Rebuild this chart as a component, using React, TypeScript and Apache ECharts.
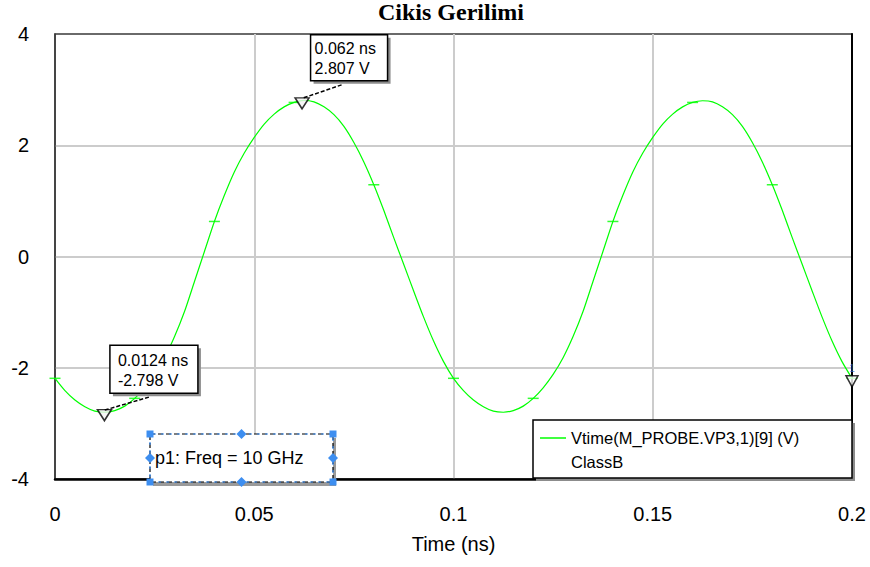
import React, { useEffect, useRef } from "react";
import * as echarts from "echarts";

// ---- data ----
const timeNs = [
  0, 0.0025, 0.005, 0.0075, 0.01, 0.0125, 0.015, 0.0175, 0.02, 0.0225, 0.025,
  0.0275, 0.03, 0.0325, 0.035, 0.0375, 0.04, 0.0425, 0.045, 0.0475, 0.05,
  0.0525, 0.055, 0.0575, 0.06, 0.0625, 0.065, 0.0675, 0.07, 0.0725, 0.075,
  0.0775, 0.08, 0.0825, 0.085, 0.0875, 0.09, 0.0925, 0.095, 0.0975, 0.1,
  0.1025, 0.105, 0.1075, 0.11, 0.1125, 0.115, 0.1175, 0.12, 0.1225, 0.125,
  0.1275, 0.13, 0.1325, 0.135, 0.1375, 0.14, 0.1425, 0.145, 0.1475, 0.15,
  0.1525, 0.155, 0.1575, 0.16, 0.1625, 0.165, 0.1675, 0.17, 0.1725, 0.175,
  0.1775, 0.18, 0.1825, 0.185, 0.1875, 0.19, 0.1925, 0.195, 0.1975, 0.2,
];
const voltage = [
  -2.19, -2.41, -2.58, -2.7, -2.78, -2.8, -2.77, -2.69, -2.55, -2.36, -2.12,
  -1.82, -1.44, -0.99, -0.45, 0.09, 0.63, 1.1, 1.52, 1.86, 2.14,
  2.38, 2.56, 2.69, 2.77, 2.807, 2.78, 2.69, 2.55, 2.34, 2.05,
  1.7, 1.29, 0.83, 0.34, -0.14, -0.62, -1.09, -1.52, -1.89, -2.19,
  -2.41, -2.58, -2.7, -2.78, -2.8, -2.77, -2.69, -2.55, -2.36, -2.12,
  -1.82, -1.44, -0.99, -0.45, 0.09, 0.63, 1.1, 1.52, 1.86, 2.14,
  2.38, 2.56, 2.69, 2.77, 2.8, 2.78, 2.69, 2.55, 2.34, 2.05,
  1.7, 1.29, 0.83, 0.34, -0.14, -0.62, -1.09, -1.52, -1.89, -2.19,
];
const sampleTimes = [0, 0.02, 0.04, 0.06, 0.08, 0.1, 0.12, 0.14, 0.16, 0.18, 0.2];
const cursorTimes = [0.0124, 0.062];
const cursorValues = [-2.798, 2.807];
const cursorLabels = [
  ["0.0124 ns", "-2.798 V"],
  ["0.062 ns", "2.807 V"],
];
const endMarkerTime = 0.2;
const endMarkerLabel = "1";
const titleText = "Cikis Gerilimi";
const xAxisName = "Time (ns)";
const seriesName = "Vtime(M_PROBE.VP3,1)[9] (V)";
const datasetName = "ClassB";
const freqLabel = "p1: Freq = 10 GHz";

const SANS = "Liberation Sans, Arial, sans-serif";
const SERIF = "Liberation Serif, Times New Roman, serif";
const GREEN = "#00ff00";
const BLUE = "#3d8ef0";

export default function App() {
  const ref = useRef<HTMLDivElement>(null);

  useEffect(() => {
    if (!ref.current) return;
    const chart = echarts.init(ref.current, null, { renderer: "svg" });
    const curve = timeNs.map((t, i) => [t, voltage[i]]);
    const samples = sampleTimes.map((t) => [t, voltage[timeNs.indexOf(t)]]);
    const cursors = cursorTimes.map((t, i) => [t, cursorValues[i]]);
    const endPoint = [endMarkerTime, voltage[timeNs.indexOf(endMarkerTime)]];

    chart.setOption({
      animation: false,
      backgroundColor: "#ffffff",
      grid: {
        left: 55,
        right: 18,
        top: 34,
        bottom: 88,
        show: true,
        borderColor: "#3a3a3a",
        borderWidth: 1.5,
        backgroundColor: "#ffffff",
      },
      xAxis: {
        type: "value",
        min: 0,
        max: 0.2,
        interval: 0.05,
        name: xAxisName,
        nameLocation: "middle",
        nameGap: 55,
        nameTextStyle: { fontFamily: SANS, fontSize: 20, color: "#000" },
        axisLine: { show: true, onZero: false, lineStyle: { color: "#000", width: 2.5 } },
        axisTick: { show: false },
        axisLabel: {
          fontFamily: SANS,
          fontSize: 20,
          color: "#000",
          margin: 25,
          formatter: (v: number) => String(+v.toFixed(2)),
        },
        splitLine: {
          show: true,
          showMinLine: false,
          showMaxLine: false,
          lineStyle: { color: "#cccccc", width: 2 },
        },
      },
      yAxis: [
        {
          type: "value",
          min: -4,
          max: 4,
          interval: 2,
          axisLine: { show: true, onZero: false, lineStyle: { color: "#3a3a3a", width: 1.5 } },
          axisTick: { show: false },
          axisLabel: {
            fontFamily: SANS,
            fontSize: 20,
            color: "#000",
            margin: 26,
            formatter: (v: number) => String(+v.toFixed(2)),
          },
          splitLine: {
            show: true,
            showMinLine: false,
            showMaxLine: false,
            lineStyle: { color: "#cccccc", width: 2 },
          },
        },
        {
          type: "value",
          min: -4,
          max: 4,
          interval: 2,
          position: "right",
          axisLine: { show: true, onZero: false, lineStyle: { color: "#000", width: 2 } },
          axisTick: { show: false },
          axisLabel: { show: false },
          splitLine: { show: false },
        },
      ],
      series: [
        {
          name: seriesName,
          type: "line",
          data: curve,
          showSymbol: false,
          smooth: 0.25,
          lineStyle: { color: GREEN, width: 1.2 },
          z: 3,
          silent: true,
        },
        {
          type: "scatter",
          data: samples,
          symbol: "rect",
          symbolSize: [11, 1.5],
          itemStyle: { color: GREEN },
          clip: false,
          z: 4,
          silent: true,
        },
        {
          type: "scatter",
          data: cursors,
          symbol: "triangle",
          symbolRotate: 180,
          symbolSize: [14, 11],
          symbolOffset: [0, 3],
          itemStyle: { color: "#f4f4f4", borderColor: "#000", borderWidth: 1.5 },
          clip: false,
          z: 5,
          silent: true,
        },
        {
          type: "scatter",
          data: [endPoint],
          symbol: "triangle",
          symbolRotate: 180,
          symbolSize: [12, 11],
          symbolOffset: [0, 3],
          itemStyle: { color: "#ffffff", borderColor: "#000", borderWidth: 1.5 },
          label: {
            show: true,
            formatter: endMarkerLabel,
            position: "top",
            distance: 2,
            fontSize: 10,
            color: "#3060c0",
            fontFamily: SANS,
          },
          clip: false,
          z: 5,
          silent: true,
        },
      ],
    });

    const px = (p: number[]) => chart.convertToPixel({ gridIndex: 0 }, p) as number[];
    const graphics: any[] = [];
    const Z = 100;

    // title
    graphics.push({
      type: "text",
      x: 451,
      y: 0,
      z: Z,
      style: {
        text: titleText,
        align: "center",
        verticalAlign: "top",
        fontFamily: SERIF,
        fontWeight: "bold",
        fontSize: 24,
        fill: "#000",
      },
    });

    // cursor callouts
    const boxSpecs = [
      { dx: 5.5, dy: -67, w: 88, h: 48, tx: 8, l1: 15, l2: 35, ax: 39, ay: 52 },
      { dx: 8.5, dy: -65.5, w: 77, h: 46, tx: 4, l1: 13.5, l2: 33.5, ax: 31, ay: 50 },
    ];
    cursors.forEach((c, i) => {
      const [mx, my] = px(c);
      const s = boxSpecs[i];
      const bx = mx + s.dx;
      const by = my + s.dy;
      graphics.push({
        type: "line",
        z: Z,
        shape: { x1: bx + s.ax, y1: by + s.ay, x2: mx, y2: my - 2 },
        style: { stroke: "#000", lineWidth: 1.5, lineDash: [4, 2] },
      });
      graphics.push({
        type: "rect",
        z: Z,
        shape: { x: bx + 3, y: by + 3, width: s.w, height: s.h },
        style: { fill: "#8c8c8c" },
      });
      graphics.push({
        type: "rect",
        z: Z + 1,
        shape: { x: bx, y: by, width: s.w, height: s.h },
        style: { fill: "#ffffff", stroke: "#000", lineWidth: 1.5 },
      });
      cursorLabels[i].forEach((txt, k) => {
        graphics.push({
          type: "text",
          z: Z + 2,
          x: bx + s.tx,
          y: by + (k === 0 ? s.l1 : s.l2),
          style: {
            text: txt,
            align: "left",
            verticalAlign: "middle",
            fontFamily: SANS,
            fontSize: 16,
            fill: "#000",
          },
        });
      });
    });

    // legend box
    const lx = 533, ly = 420, lw = 319, lh = 58;
    graphics.push({
      type: "rect",
      z: Z,
      shape: { x: lx + 3, y: ly + 3, width: lw, height: lh },
      style: { fill: "#8c8c8c" },
    });
    graphics.push({
      type: "rect",
      z: Z + 1,
      shape: { x: lx, y: ly, width: lw, height: lh },
      style: { fill: "#ffffff", stroke: "#000", lineWidth: 1.5 },
    });
    graphics.push({
      type: "line",
      z: Z + 2,
      shape: { x1: lx + 7, y1: ly + 18, x2: lx + 33, y2: ly + 18 },
      style: { stroke: GREEN, lineWidth: 1.5 },
    });
    graphics.push({
      type: "text",
      z: Z + 2,
      x: lx + 38,
      y: ly + 18,
      style: { text: seriesName, align: "left", verticalAlign: "middle", fontFamily: SANS, fontSize: 16.5, fill: "#000" },
    });
    graphics.push({
      type: "text",
      z: Z + 2,
      x: lx + 38,
      y: ly + 42,
      style: { text: datasetName, align: "left", verticalAlign: "middle", fontFamily: SANS, fontSize: 16.5, fill: "#000" },
    });

    // p1 frequency box (selected annotation)
    const fx = 150, fy = 434, fw = 183, fh = 48;
    graphics.push({
      type: "rect",
      z: Z,
      shape: { x: fx + 3, y: fy + 4, width: fw, height: fh },
      style: { fill: "#9a9a9a" },
    });
    graphics.push({
      type: "rect",
      z: Z + 1,
      shape: { x: fx, y: fy, width: fw, height: fh },
      style: { fill: "#ffffff", stroke: "#000", lineWidth: 1.2, lineDash: [5, 3] },
    });
    graphics.push({
      type: "rect",
      z: Z + 2,
      shape: { x: fx, y: fy, width: fw, height: fh },
      style: { fill: "none", stroke: BLUE, lineWidth: 1.2, lineDash: [3, 5], lineDashOffset: 5 },
    });
    graphics.push({
      type: "text",
      z: Z + 3,
      x: fx + 5,
      y: fy + 24,
      style: { text: freqLabel, align: "left", verticalAlign: "middle", fontFamily: SANS, fontSize: 18, fill: "#000" },
    });
    const corners = [
      [fx, fy],
      [fx + fw, fy],
      [fx, fy + fh],
      [fx + fw, fy + fh],
    ];
    corners.forEach(([cx, cy]) => {
      graphics.push({
        type: "rect",
        z: Z + 4,
        shape: { x: cx - 3.5, y: cy - 3.5, width: 7, height: 7 },
        style: { fill: BLUE },
      });
    });
    const mids = [
      [fx + fw / 2, fy],
      [fx + fw / 2, fy + fh],
      [fx, fy + fh / 2],
      [fx + fw, fy + fh / 2],
    ];
    mids.forEach(([cx, cy]) => {
      graphics.push({
        type: "polygon",
        z: Z + 4,
        shape: { points: [[cx, cy - 5], [cx + 5, cy], [cx, cy + 5], [cx - 5, cy]] },
        style: { fill: BLUE },
      });
    });

    chart.setOption({ graphic: graphics });

    return () => chart.dispose();
  }, []);

  return (
    <div
      ref={ref}
      style={{ position: "fixed", left: 0, top: 0, width: 870, height: 567, background: "#fff" }}
    />
  );
}
